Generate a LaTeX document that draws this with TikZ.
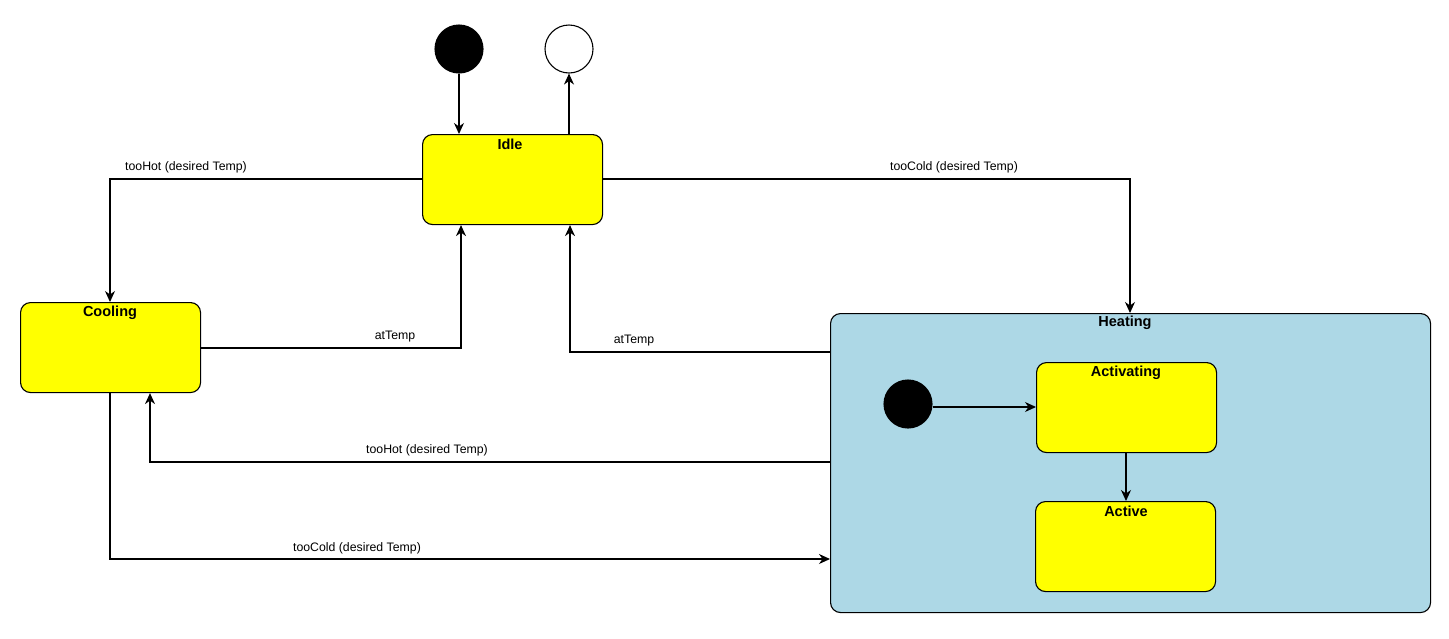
\documentclass[tikz,border=0pt]{standalone}
\usepackage{fontspec}
\setmainfont{Liberation Sans}
\usetikzlibrary{arrows.meta}
\definecolor{stateyellow}{HTML}{FFFF00}
\definecolor{heatblue}{HTML}{ADD8E6}
\begin{document}
\begin{tikzpicture}[x=1pt,y=-1pt,line width=1.1pt,
  statebox/.style={draw=black,fill=stateyellow,rounded corners=10pt,minimum width=180pt,minimum height=90pt,inner sep=0pt,anchor=north west},
  compbox/.style={draw=black,fill=heatblue,rounded corners=10pt,minimum width=600pt,minimum height=299pt,inner sep=0pt,anchor=north west},
  statename/.style={font=\fontsize{14.5}{16}\selectfont\bfseries,inner sep=0pt},
  initdot/.style={circle,fill=black,draw=black,minimum size=48pt,inner sep=0pt},
  finaldot/.style={circle,fill=white,draw=black,minimum size=48pt,inner sep=0pt},
  edgelbl/.style={font=\fontsize{12.3}{14}\selectfont,inner sep=0pt},
  conn/.style={draw=black,-{Stealth[length=11pt,width=10pt,inset=3.5pt]}}]
\useasboundingbox (0,0) rectangle (1449,638);
% states
\node[initdot] (init) at (459,49) {};
\node[finaldot] (final) at (569,49) {};
\node[statebox] (idle) at (422,134) {};
\node[statename] (idlelbl) at (510,144.5) {Idle};
\node[statebox] (cooling) at (20,302) {};
\node[statename] (coollbl) at (110,312.5) {Cooling};
\node[compbox] (heating) at (830,313) {};
\node[statename] (heatlbl) at (1125,323) {Heating};
\node[initdot] (hinit) at (908,404) {};
\node[statebox] (activating) at (1036,362) {};
\node[statename] (actglbl) at (1126,372.5) {Activating};
\node[statebox] (active) at (1035,501) {};
\node[statename] (actlbl) at (1126,511.5) {Active};
% coordinates for bends
\coordinate (c1) at (110,179);
\coordinate (c2) at (1130,179);
\coordinate (c3) at (461,348);
\coordinate (c4) at (570,352);
\coordinate (c5) at (150,462);
\coordinate (c6) at (110,559);
% connectors
\draw[conn] (init.south) -- (init.south |- idle.north);
\draw[conn] (final.south |- idle.north) -- (final.south);
\draw[conn] (idle.west |- c1) -- (c1) -- (c1 |- cooling.north);
\draw[conn] (idle.east |- c2) -- (c2) -- (c2 |- heating.north);
\draw[conn] (cooling.east |- c3) -- (c3) -- (c3 |- idle.south);
\draw[conn] (heating.west |- c4) -- (c4) -- (c4 |- idle.south);
\draw[conn] (heating.west |- c5) -- (c5) -- (c5 |- cooling.south);
\draw[conn] (c6 |- cooling.south) -- (c6) -- (c6 -| heating.west);
\draw[conn] (hinit.east |- 0,407) -- (activating.west |- 0,407);
\draw[conn] (1126,452) -- (1126,501);
% labels
\node[edgelbl] (l1) at (186,167) {tooHot (desired Temp)};
\node[edgelbl] (l2) at (954,167) {tooCold (desired Temp)};
\node[edgelbl] (l3) at (395,337) {atTemp};
\node[edgelbl] (l4) at (634,341) {atTemp};
\node[edgelbl] (l5) at (427,450) {tooHot (desired Temp)};
\node[edgelbl] (l6) at (357,548) {tooCold (desired Temp)};
\end{tikzpicture}
\end{document}
